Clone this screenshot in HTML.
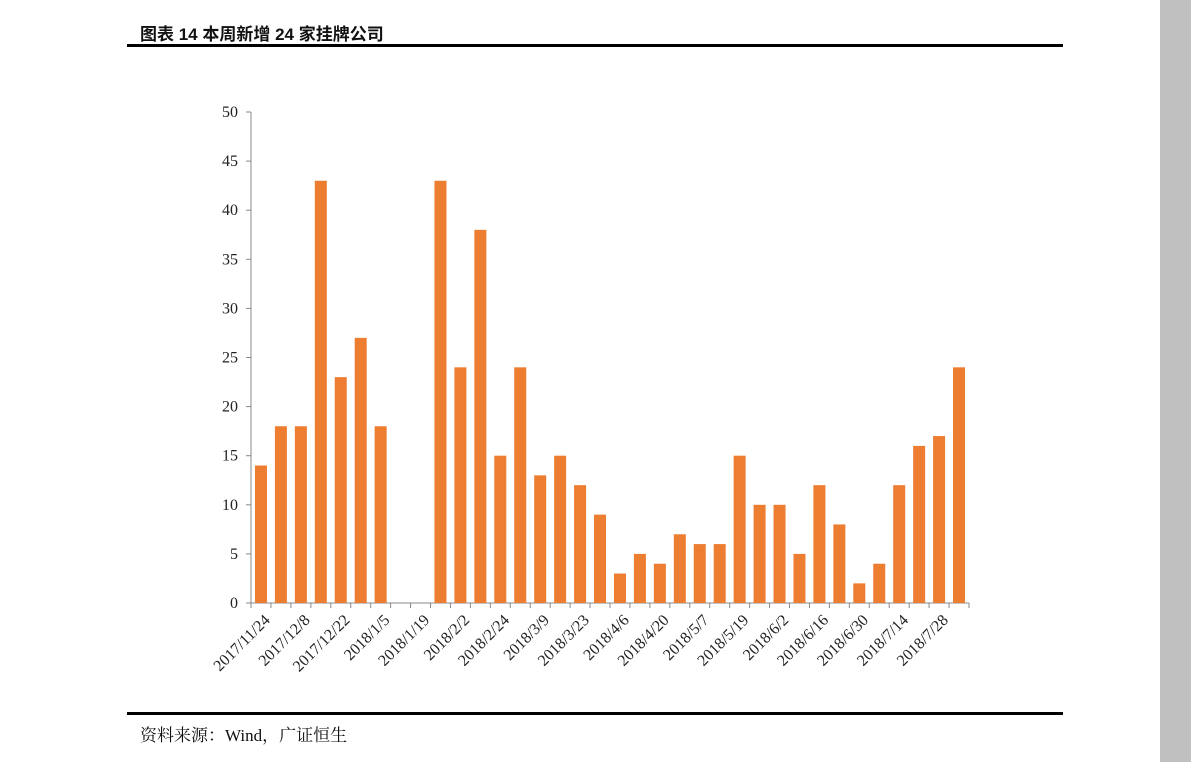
<!DOCTYPE html>
<html><head><meta charset="utf-8"><style>
body{margin:0;width:1191px;height:762px;background:#fff;overflow:hidden;position:relative;font-family:"Liberation Serif","Noto Serif CJK SC",serif}
.t{position:absolute;left:140px;top:20px;font:bold 17px "Liberation Sans","Noto Sans CJK SC",sans-serif;color:#111}
.src{position:absolute;left:140px;top:721px;font-size:17px;color:#111;font-family:"Liberation Serif","Noto Serif CJK SC",serif}
</style></head><body>
<div class="t">图表 14 本周新增 24 家挂牌公司</div>
<div style="position:absolute;left:127px;top:44px;width:936px;height:3px;background:#000"></div>
<div style="position:absolute;left:127px;top:712px;width:936px;height:3px;background:#000"></div>
<div class="src">资料来源：Wind，广证恒生</div>
<div style="position:absolute;left:1160px;top:0;width:31px;height:762px;background:#c0c0c0"></div>
<svg id="c" width="1191" height="762" style="position:absolute;left:0;top:0"></svg>
<script>
const values=[14,18,18,43,23,27,18,0,0,43,24,38,15,24,13,15,12,9,3,5,4,7,6,6,15,10,10,5,12,8,2,4,12,16,17,24];
const labels=["2017/11/24","2017/12/8","2017/12/22","2018/1/5","2018/1/19","2018/2/2","2018/2/24","2018/3/9","2018/3/23","2018/4/6","2018/4/20","2018/5/7","2018/5/19","2018/6/2","2018/6/16","2018/6/30","2018/7/14","2018/7/28"];
const yTicks=[0,5,10,15,20,25,30,35,40,45,50];
const NS="http://www.w3.org/2000/svg",svg=document.getElementById('c');
const x0=251,x1=969,y0=603,y1=112,n=values.length,step=(x1-x0)/n;
const y=v=>y0-(v/50)*(y0-y1), xc=i=>x0+step*(i+0.5);
function mk(t,a){const e=document.createElementNS(NS,t);for(const k in a)e.setAttribute(k,a[k]);svg.appendChild(e);return e;}
let e=mk('line',{x1:x0,y1:y1,x2:x0,y2:y0,stroke:'#888'});


e=mk('line',{x1:x0,y1:y0,x2:x1,y2:y0,stroke:'#888'});


yTicks.forEach(v=>{
 let t=mk('line',{x1:x0-5,y1:y(v),x2:x0,y2:y(v),stroke:'#888'});
 
 
 let l=mk('text',{x:x0-13,y:y(v)+5,'text-anchor':'end','font-size':16,fill:'#222'});
 l.textContent=v;
 
 
});
for(let i=0;i<=n;i++){
 let t=mk('line',{x1:x0+step*i,y1:y0,x2:x0+step*i,y2:y0+5,stroke:'#888'});
 
 
}
values.forEach((v,i)=>{
 let b=mk('rect',{x:xc(i)-6,y:y(v),width:12,height:y0-y(v),fill:'#ED7D31'});
 
 
});
labels.forEach((s,k)=>{
 const cx=xc(k*2)+2,cy=y0+10;
 let l=mk('text',{x:cx,y:cy,'text-anchor':'end','font-size':16,fill:'#222',transform:`rotate(-45 ${cx} ${cy})`,dy:'0.7em'});
 l.textContent=s;
 
 
});
</script>
</body></html>
